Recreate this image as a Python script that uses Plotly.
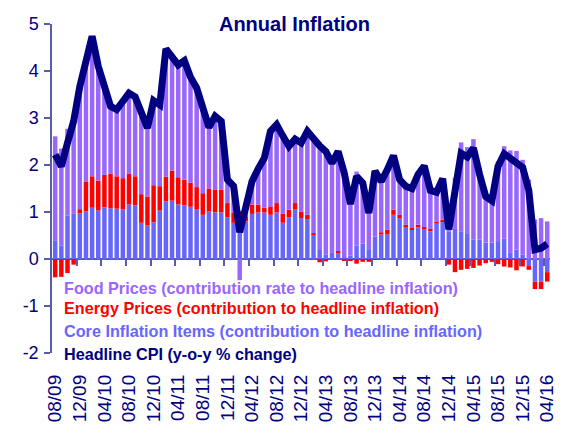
import pandas as pd
import plotly.graph_objects as go

# monthly categories 08/09 .. 04/16
months = pd.date_range("2009-08-01", periods=81, freq="MS").strftime("%m/%y").tolist()

# contributions to headline inflation (percentage points)
core = [0.40, 0.29, 0.92, 0.96, 0.97, 1.01, 1.09, 1.03, 1.10, 1.08,
        1.07, 1.05, 1.16, 1.14, 0.77, 0.71, 0.78, 1.03, 1.23, 1.24,
        1.16, 1.14, 1.11, 1.05, 0.94, 1.01, 0.99, 0.99, 0.89, 0.77,
        0.80, 0.80, 0.96, 0.99, 0.99, 0.94, 0.99, 0.77, 0.89, 1.05,
        0.87, 0.85, 0.52, 0.21, 0.09, 0.13, 0.14, 0.04, 0.07, 0.29,
        0.33, 0.21, 0.48, 0.52, 0.52, 0.94, 0.87, 0.70, 0.62, 0.67,
        0.64, 0.59, 0.75, 0.80, 0.59, 0.64, 0.59, 0.55, 0.41, 0.41,
        0.35, 0.35, 0.38, 0.43, 0.13, 0.20, 0.09, -0.15, -0.48, -0.48,
        -0.28]

energy = [-0.39, -0.38, -0.30, -0.12, 0.09, 0.64, 0.67, 0.64, 0.69, 0.74,
          0.69, 0.67, 0.65, 0.62, 0.61, 0.62, 0.79, 0.52, 0.52, 0.64,
          0.58, 0.55, 0.51, 0.48, 0.46, 0.49, 0.49, 0.49, 0.30, 0.21,
          0.22, 0.11, 0.20, 0.17, 0.10, 0.18, 0.20, 0.19, 0.16, 0.14,
          0.14, 0.09, 0.03, -0.07, -0.05, 0.00, 0.03, -0.03, -0.03, -0.10,
          -0.06, -0.06, -0.01, 0.05, 0.10, 0.11, 0.07, 0.03, 0.04, 0.06,
          0.04, 0.05, 0.05, 0.04, -0.12, -0.28, -0.23, -0.21, -0.19, -0.14,
          -0.09, -0.06, -0.11, -0.16, -0.18, -0.24, -0.16, -0.08, -0.16, -0.16,
          -0.20]

food = [2.21, 2.06, 1.85, 2.09, 2.61, 2.52, 2.98, 2.43, 1.92, 1.43,
        1.42, 1.67, 1.72, 1.69, 1.70, 1.46, 1.80, 1.73, 2.72, 2.40,
        2.39, 2.53, 2.25, 2.11, 1.81, 1.30, 1.56, 1.45, 0.50, 0.57,
        -0.45, 0.29, 0.49, 0.76, 1.06, 1.60, 1.67, 1.66, 1.35, 1.36,
        1.46, 1.78, 1.99, 2.27, 2.25, 1.91, 2.12, 1.82, 1.13, 1.57,
        1.35, 0.83, 1.40, 1.08, 1.28, 1.15, 0.75, 0.82, 0.84, 1.07,
        1.30, 0.82, 0.62, 0.87, 0.16, 1.09, 1.89, 1.83, 2.14, 1.53,
        1.07, 0.95, 1.70, 1.97, 2.18, 2.10, 2.02, 1.69, 0.84, 0.87,
        0.80]

headline = [2.22, 1.97, 2.47, 2.93, 3.67, 4.17, 4.74, 4.10, 3.71, 3.25,
            3.18, 3.39, 3.53, 3.45, 3.08, 2.79, 3.37, 3.28, 4.47, 4.28,
            4.13, 4.22, 3.87, 3.64, 3.21, 2.80, 3.04, 2.93, 1.69, 1.55,
            0.57, 1.20, 1.65, 1.92, 2.15, 2.72, 2.86, 2.62, 2.40, 2.55,
            2.47, 2.72, 2.54, 2.41, 2.29, 2.04, 2.29, 1.83, 1.17, 1.76,
            1.62, 0.98, 1.87, 1.65, 1.90, 2.20, 1.69, 1.55, 1.50, 1.80,
            1.98, 1.46, 1.42, 1.71, 0.63, 1.45, 2.25, 2.17, 2.36, 1.80,
            1.33, 1.24, 1.97, 2.24, 2.13, 2.06, 1.95, 1.46, 0.20, 0.23,
            0.32]

y_ticks = [-2, -1, 0, 1, 2, 3, 4, 5]
y_tick_labels = ["-2", "-1", "0", "1", "2", "3", "4", "5"]

legend_labels = [
    "Food Prices (contribution rate to headline inflation)",
    "Energy Prices (contribution to headline inflation)",
    "Core Inflation Items (contribution to headline inflation)",
    "Headline CPI (y-o-y % change)",
]
legend_colors = ['#9966FF', '#FF0000', '#6666FF', '#000080']
legend_y = [0.198, 0.136, 0.068, -0.003]

FONT = "Arial, Liberation Sans, sans-serif"
NAVY = '#000080'
AXIS = '#5b5ba8'
XRANGE = [-0.52, 80.45]

fig = go.Figure()

fig.add_trace(go.Bar(x=months, y=core, name='Core', marker_color='#6666FF',
                     marker_line_width=0))
fig.add_trace(go.Bar(x=months, y=energy, name='Energy', marker_color='#FF0000',
                     marker_line_width=0))
fig.add_trace(go.Bar(x=months, y=food, name='Food', marker_color='#9966FF',
                     marker_line_width=0))
fig.add_trace(go.Scatter(x=months, y=headline, mode='lines', name='Headline',
                         line=dict(color=NAVY, width=7)))
# empty trace so the zero-line tick axis gets drawn
fig.add_trace(go.Scatter(x=[], y=[], xaxis='x2', yaxis='y', hoverinfo='skip'))

# legend as coloured text lines
for label, col, ly in zip(legend_labels, legend_colors, legend_y):
    fig.add_annotation(
        x=0.02, y=ly,
        xref='paper', yref='paper',
        xanchor='left', yanchor='middle',
        text=label, showarrow=False,
        font=dict(family=FONT, size=16.2, color=col, weight='bold')
    )

yaxis_style = dict(
    range=[-2, 5], tickvals=y_ticks, ticktext=y_tick_labels,
    showgrid=False, automargin=False,
    showline=True, linecolor=AXIS, linewidth=1.5,
    ticks='outside', ticklen=6, tickcolor=AXIS, tickwidth=1.5,
    tickfont=dict(family=FONT, size=18, color=NAVY),
)

fig.update_layout(
    width=573, height=424,
    barmode='relative', bargap=0.27,
    showlegend=False,
    plot_bgcolor='white', paper_bgcolor='white',
    margin=dict(l=44, r=31, t=16, b=79),
    title=dict(text="Annual Inflation", x=0.5, y=0.963,
               xanchor='center', yanchor='middle',
               font=dict(family=FONT, size=20, color=NAVY, weight='bold')),
    xaxis=dict(
        type='category', range=XRANGE, automargin=False,
        tickvals=months[::4], tickangle=-90,
        ticks='', showline=False, showgrid=False,
        tickfont=dict(family=FONT, size=19, color=NAVY),
        ticklabelstandoff=17,
    ),
    # tick marks sitting on the zero line
    xaxis2=dict(
        overlaying='x', anchor='free', position=2 / 7, automargin=False,
        range=XRANGE, showgrid=False, showline=False, zeroline=False,
        tickvals=[i + 3.5 for i in range(0, 80, 4)],
        ticks='outside', ticklen=6, tickcolor=AXIS, tickwidth=1.5,
        showticklabels=False,
    ),
    yaxis=dict(**yaxis_style, zeroline=True, zerolinecolor=AXIS,
               zerolinewidth=1.5, ticklabelstandoff=2),
    yaxis2=dict(**yaxis_style, overlaying='y', side='right', zeroline=False,
                ticklabelstandoff=0),
)

fig.write_html("out.html")
